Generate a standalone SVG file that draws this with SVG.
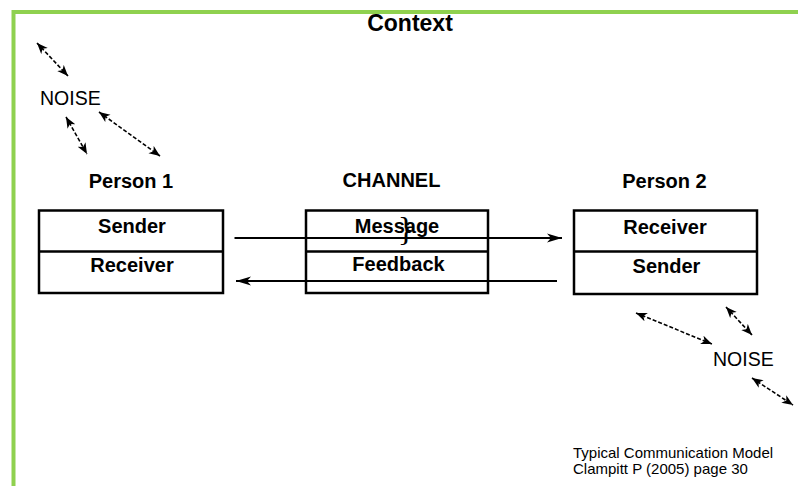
<svg xmlns="http://www.w3.org/2000/svg" width="798" height="486" viewBox="0 0 798 486">
<defs>
<style>
.t{font-family:"Liberation Sans",Arial,sans-serif;fill:#000}
.b{font-weight:bold;font-size:20px;text-anchor:middle}
.box{fill:none;stroke:#000;stroke-width:2.5}
.flow{stroke:#000;stroke-width:2;fill:none}
.noise{stroke:#000;stroke-width:1.6;fill:none;stroke-dasharray:4 2}
</style>
<marker id="ah" viewBox="-15 -6 16 12" refX="0" refY="0" markerWidth="16" markerHeight="12" markerUnits="userSpaceOnUse" orient="auto">
<path d="M0,0 L-15,-4.5 L-11,0 L-15,4.5 Z" fill="#000"/>
</marker>
<marker id="nh" viewBox="-11 -5 12 10" refX="0" refY="0" markerWidth="12" markerHeight="10" markerUnits="userSpaceOnUse" orient="auto-start-reverse">
<path d="M0,0 L-11,-4.5 L-8,0 L-11,4.5 Z" fill="#000"/>
</marker>
</defs>
<rect width="798" height="486" fill="#fff"/>
<path d="M13.5,486 V12 H798" fill="none" stroke="#8fd14f" stroke-width="4"/>
<text class="t" x="410" y="31" font-size="23" font-weight="bold" text-anchor="middle">Context</text>

<g id="person1">
<text class="t b" x="131" y="188">Person 1</text>
<rect class="box" x="39" y="210.5" width="184" height="82.5"/>
<line class="box" x1="39" y1="251.5" x2="223" y2="251.5"/>
<text class="t b" x="132" y="233">Sender</text>
<text class="t b" x="132" y="272">Receiver</text>
</g>

<g id="channel">
<text class="t b" x="391.5" y="187">CHANNEL</text>
<rect class="box" x="306" y="210.5" width="182" height="82.5"/>
<line class="box" x1="306" y1="251.5" x2="488" y2="251.5"/>
<text class="t b" x="397" y="233">Message</text>
<text class="t b" x="398.5" y="271">Feedback</text>
</g>

<g id="person2">
<text class="t b" x="664.5" y="188">Person 2</text>
<rect class="box" x="574" y="210.5" width="183" height="83.5"/>
<line class="box" x1="574" y1="251.5" x2="757" y2="251.5"/>
<text class="t b" x="665" y="234">Receiver</text>
<text class="t b" x="666.5" y="273">Sender</text>
</g>

<g id="noise1">
<text class="t" x="40" y="105" font-size="19.5">NOISE</text>
</g>
<g id="noise2">
<text class="t" x="713" y="366" font-size="19.5">NOISE</text>
</g>

<g id="caption">
<text class="t" x="573" y="458" font-size="15">Typical Communication Model</text>
<text class="t" x="573" y="474" font-size="15">Clampitt P (2005) page 30</text>
</g>

<g id="connectors">
<line class="flow" x1="234.5" y1="238" x2="562" y2="238" marker-end="url(#ah)"/>
<line class="flow" x1="557" y1="281" x2="236" y2="281" marker-end="url(#ah)"/>
<line class="noise" x1="37" y1="43" x2="68" y2="76" marker-start="url(#nh)" marker-end="url(#nh)"/>
<line class="noise" x1="66" y1="117" x2="87" y2="154" marker-start="url(#nh)" marker-end="url(#nh)"/>
<line class="noise" x1="99" y1="112" x2="160" y2="156" marker-start="url(#nh)" marker-end="url(#nh)"/>
<line class="noise" x1="636" y1="313" x2="712" y2="344" marker-start="url(#nh)" marker-end="url(#nh)"/>
<line class="noise" x1="726" y1="307" x2="752" y2="335" marker-start="url(#nh)" marker-end="url(#nh)"/>
<line class="noise" x1="752" y1="378" x2="793" y2="405" marker-start="url(#nh)" marker-end="url(#nh)"/>
</g>
<text x="406" y="240" font-family="'Liberation Serif','Times New Roman',serif" font-size="34" text-anchor="middle" fill="#000">}</text>
</svg>
